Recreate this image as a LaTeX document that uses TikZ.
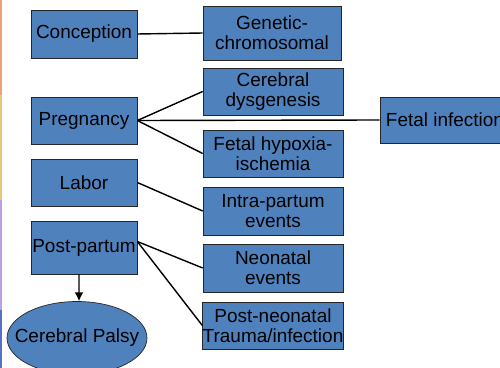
\documentclass[tikz,border=0pt]{standalone}
\usepackage{fontspec}
\setmainfont{Liberation Sans}
\usetikzlibrary{arrows.meta,shapes.geometric}

\definecolor{boxblue}{HTML}{4F81BD}
\definecolor{stripa}{HTML}{E9A27E}
\definecolor{stripb}{HTML}{E8C874}
\definecolor{stripc}{HTML}{B9A2E2}
\definecolor{stripd}{HTML}{5472C4}

\tikzset{
    cause/.style={draw=black!85, fill=boxblue, align=center, inner xsep=0pt, inner ysep=1pt,
        font=\fontsize{10.8}{11.4}\selectfont},
    link/.style={line width=0.8pt}
}

\begin{document}
\begin{tikzpicture}[x=0.02cm, y=-0.02cm]
    \useasboundingbox (0,0) rectangle (500,368);
    \clip (0,0) rectangle (500,368);

    % strip on the left edge
    \fill[stripa] (0,0) rectangle (2,95);
    \fill[stripb] (0,95) rectangle (2,200);
    \fill[stripc] (0,200) rectangle (2,310);
    \fill[stripd] (0,310) rectangle (2,368);

    % periods
    \node[cause, minimum width=2.12cm, minimum height=0.96cm] (conc) at (84,34) {Conception};
    \node[cause, minimum width=2.12cm, minimum height=0.94cm] (preg) at (84,120.5) {Pregnancy};
    \node[cause, minimum width=2.12cm, minimum height=0.94cm] (labor) at (84,182.5) {Labor};
    \node[cause, minimum width=2.12cm, minimum height=1.06cm] (pp) at (84,247.5) {Post-partum};
    \node[cause, ellipse, inner sep=0pt, minimum width=2.8cm, minimum height=1.46cm] (cp) at (77,338)
        {\makebox[0pt]{Cerebral Palsy}};

    % causes
    \node[cause, minimum width=2.76cm, minimum height=1.08cm] (gen) at (272,33) {Genetic-\\chromosomal};
    \node[cause, minimum width=2.8cm, minimum height=0.94cm] (cdys) at (273,91.5) {Cerebral\\dysgenesis};
    \node[cause, minimum width=2.8cm, minimum height=0.94cm] (hyp) at (273,153.5) {Fetal hypoxia-\\ischemia};
    \node[cause, minimum width=2.8cm, minimum height=0.96cm] (intra) at (273,211) {Intra-partum\\events};
    \node[cause, minimum width=2.8cm, minimum height=0.96cm] (neo) at (273,268) {Neonatal\\events};
    \node[cause, minimum width=2.8cm, minimum height=0.94cm] (pneo) at (273,325.5) {Post-neonatal\\Trauma/infection};
    \node[cause, minimum width=2.6cm, minimum height=0.92cm] (finf) at (445,120) {Fetal infection};

    \draw[link] (conc.east) -- (gen.west);
    \draw[link] (preg.east) -- (cdys.west);
    \draw[link] (preg.east) -- (finf.west);
    \draw[link] (preg.east) -- (hyp.west);
    \draw[link] (labor.east) -- (intra.west);
    \draw[link] ([yshift=0.12cm]pp.east) -- (neo.west);
    \draw[link] ([yshift=0.12cm]pp.east) -- (pneo.west);
    \draw[link, -{Latex[length=5pt,width=5pt]}] ([xshift=-0.1cm]pp.south) -- ([xshift=0.04cm]cp.north);
\end{tikzpicture}
\end{document}
